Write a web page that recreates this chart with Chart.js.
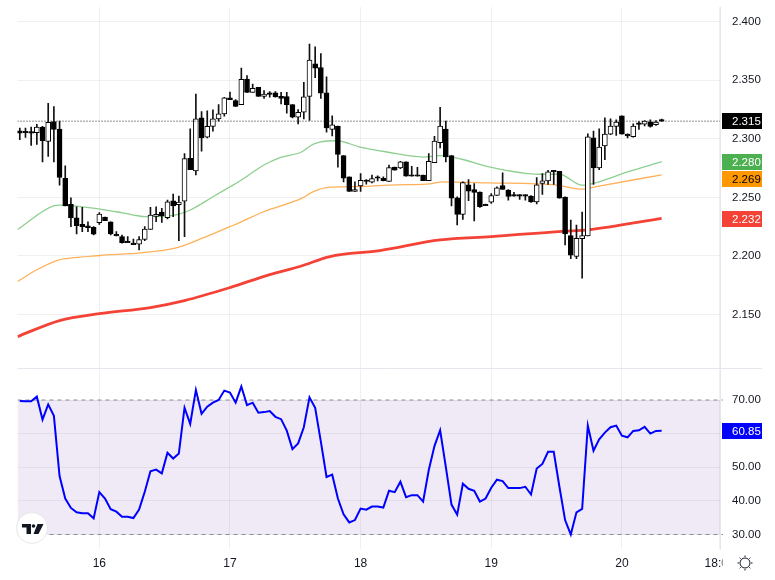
<!DOCTYPE html>
<html><head><meta charset="utf-8">
<style>html,body{margin:0;padding:0;background:#fff}canvas{display:block}</style>
<script src="https://cdn.jsdelivr.net/npm/chart.js@4"></script>
</head><body><canvas id="c" width="775" height="580"></canvas>
<script>
const opens=[2.3068,2.3062,2.3054,2.3051,2.3099,2.2977,2.3147,2.3082,2.2663,2.2440,
2.2326,2.2270,2.2256,2.2244,2.2284,2.2332,2.2292,2.2179,2.2165,2.2123,
2.2103,2.2100,2.2140,2.2227,2.2338,2.2375,2.2326,2.2471,2.2437,2.2468,
2.2833,2.2725,2.3178,2.3014,2.3105,2.3170,2.3212,2.3348,2.3325,2.3291,
2.3509,2.3396,2.3439,2.3362,2.3391,2.3391,2.3362,2.3359,2.3291,2.3184,
2.3226,2.3362,2.3640,2.3608,2.3391,2.3079,2.3108,2.2856,2.2675,2.2550,
2.2598,2.2643,2.2629,2.2672,2.2663,2.2635,2.2759,2.2751,2.2802,2.2686,
2.2686,2.2689,2.2643,2.2796,2.2966,2.3082,2.2856,2.2496,2.2355,2.2607,
2.2567,2.2544,2.2440,2.2459,2.2516,2.2601,2.2561,2.2519,2.2516,2.2519,
2.2510,2.2462,2.2618,2.2641,2.2717,2.2723,2.2502,2.2174,2.1995,2.2148,
2.2171,2.3008,2.2751,2.2938,2.3040,2.3105,2.3195,2.3040,2.3017,2.3122,
2.3125,2.3145,2.3119,2.3155];
const closes=[2.3048,2.3051,2.3048,2.3099,2.2983,2.3139,2.3079,2.2669,2.2426,2.2324,
2.2259,2.2250,2.2242,2.2185,2.2358,2.2301,2.2188,2.2171,2.2114,2.2114,
2.2097,2.2140,2.2230,2.2349,2.2355,2.2341,2.2462,2.2426,2.2459,2.2830,
2.2737,2.3170,2.3008,2.3105,2.3170,2.3212,2.3348,2.3334,2.3275,2.3507,
2.3396,2.3430,2.3362,2.3382,2.3379,2.3357,2.3345,2.3291,2.3184,2.3226,
2.3357,2.3671,2.3603,2.3388,2.3093,2.3119,2.2867,2.2663,2.2550,2.2567,
2.2646,2.2635,2.2660,2.2663,2.2643,2.2754,2.2731,2.2802,2.2680,2.2680,
2.2680,2.2643,2.2808,2.2980,2.3108,2.2844,2.2493,2.2355,2.2626,2.2553,
2.2542,2.2420,2.2428,2.2516,2.2581,2.2567,2.2508,2.2510,2.2510,2.2510,
2.2462,2.2607,2.2641,2.2717,2.2723,2.2493,2.2188,2.2007,2.2151,2.2174,
2.3017,2.2751,2.2929,2.3040,2.3108,2.3142,2.3040,2.3025,2.3108,2.3127,
2.3150,2.3105,2.3142,2.3150];
const highs=[2.3091,2.3091,2.3099,2.3122,2.3105,2.3303,2.3275,2.3150,2.2768,2.2496,
2.2420,2.2414,2.2292,2.2250,2.2369,2.2332,2.2292,2.2208,2.2179,2.2165,
2.2143,2.2165,2.2250,2.2414,2.2420,2.2406,2.2476,2.2527,2.2510,2.2873,
2.3085,2.3382,2.3232,2.3238,2.3246,2.3291,2.3354,2.3399,2.3334,2.3603,
2.3538,2.3467,2.3439,2.3410,2.3402,2.3402,2.3396,2.3396,2.3291,2.3249,
2.3481,2.3807,2.3784,2.3727,2.3529,2.3195,2.3108,2.2856,2.2675,2.2632,
2.2703,2.2652,2.2689,2.2683,2.2675,2.2776,2.2759,2.2808,2.2802,2.2765,
2.2757,2.2689,2.2873,2.3020,2.3269,2.3150,2.2856,2.2505,2.2632,2.2652,
2.2618,2.2547,2.2443,2.2533,2.2590,2.2709,2.2567,2.2542,2.2522,2.2522,
2.2516,2.2669,2.2703,2.2731,2.2731,2.2723,2.2505,2.2307,2.2264,2.2375,
2.3042,2.3065,2.3085,2.3178,2.3170,2.3161,2.3195,2.3042,2.3127,2.3147,
2.3156,2.3161,2.3156,2.3167];
const lows=[2.2992,2.3011,2.2943,2.2952,2.2802,2.2850,2.2802,2.2604,2.2426,2.2250,
2.2188,2.2208,2.2208,2.2179,2.2270,2.2301,2.2179,2.2171,2.2109,2.2114,
2.2097,2.2052,2.2131,2.2227,2.2292,2.2287,2.2315,2.2335,2.2131,2.2165,
2.2737,2.2692,2.2895,2.3008,2.3065,2.3150,2.3192,2.3334,2.3275,2.3291,
2.3396,2.3396,2.3362,2.3345,2.3354,2.3354,2.3297,2.3218,2.3178,2.3127,
2.3170,2.3156,2.3521,2.3345,2.3057,2.3025,2.2757,2.2632,2.2550,2.2550,
2.2550,2.2612,2.2624,2.2641,2.2641,2.2635,2.2731,2.2745,2.2680,2.2680,
2.2680,2.2643,2.2643,2.2796,2.2921,2.2802,2.2426,2.2264,2.2312,2.2471,
2.2298,2.2414,2.2428,2.2448,2.2516,2.2567,2.2476,2.2510,2.2482,2.2476,
2.2457,2.2443,2.2525,2.2610,2.2610,2.2493,2.2094,2.1976,2.1976,2.1811,
2.2171,2.2610,2.2737,2.2822,2.3034,2.3028,2.3040,2.3008,2.3014,2.3079,
2.3110,2.3099,2.3113,2.3147];

const greenBars=[-0.4,5.9,7,14.1,17,20,22.3,27,30,34,37,38.8,42.9,45.8,49.6,51.6,52.8,55.8,59.9,64.6,71,74,77.8,82.2,91.6,95,99,101.5,107,113];
const greenMA=[2.2225,2.2428,2.2434,2.2400,2.2377,2.2349,2.2335,2.2346,2.2392,2.2505,2.2590,2.2641,2.2774,2.2839,2.2887,2.2952,2.2972,2.2983,2.2929,2.2887,2.2844,2.2856,2.2825,2.2765,2.2697,2.2697,2.2604,2.2626,2.2717,2.2804];
const orangeBars=[-0.4,3,6.5,8.3,14.1,21.7,27.7,31.7,37,38.8,42.9,49.6,51.6,54.6,59.9,66.3,71.6,74.5,82.2,94.5,99,101.5,113];
const orangeMA=[2.1782,2.1882,2.1961,2.1978,2.2004,2.2029,2.2072,2.2143,2.2250,2.2287,2.2377,2.2491,2.2547,2.2587,2.2592,2.2607,2.2612,2.2632,2.2624,2.2604,2.2570,2.2592,2.2692];
const redBars=[-0.4,7,14,23,29,37,44,49.3,54.6,63.4,74,83,95.5,100,113];
const redMA=[2.1312,2.1449,2.1508,2.1560,2.1619,2.1730,2.1841,2.1910,2.1995,2.2046,2.2137,2.2165,2.2210,2.2222,2.2321];

const rsi=[69.7,69.6,69.6,71,64.2,68.7,65.3,47.4,40.7,37.9,
36.6,36.3,36.3,34.8,42.6,40.7,37.5,36.8,35.3,35.3,
34.9,37.4,42.7,48.8,49.3,48.2,54.3,52.6,54.1,67.7,
62.9,73,65.9,68,69.2,70,72.8,72.2,69.2,74,
68.5,69.2,66.2,66.4,66.7,65,64.3,60.9,55.4,57.1,
61.9,70.8,67.7,57.6,47.1,47.8,40.7,36,33.6,34.3,
37.7,37.4,38.3,38.3,38,43,42.6,45.7,41.1,41.7,
41.7,39.8,49.2,56.3,61,50.1,38.9,35.9,45.1,43.6,
43,39.8,40.7,43.9,46.3,45.9,43.8,43.8,43.8,44.2,
41.9,49.6,51,54.6,54.6,44.2,34.3,30,36.6,37.6,
62.4,54.9,58.3,60.3,61.9,62.4,59.4,58.9,60.8,61,
62,60,60.8,60.85];

const priceTicks=[2.15,2.2,2.25,2.3,2.35,2.4];
const rsiTicks=[30,40,50,60,70];
const rsiBand=[70,30];
const dayTickBars=[14,37,60,83,106,123.2];
const dayTickLabels=['16','17','18','19','20','18:00'];
const lastPrice=2.315, lastGreen=2.280, lastOrange=2.269, lastRed=2.232, lastRsi=60.85;

const XMIN=-0.405, XMAX=123.27, BANDEND=123.8;
const idx=opens.map((_,i)=>i);
const pts=(xs,ys)=>xs.map((x,i)=>({x,y:ys[i]}));
const line=(label,data,color,width)=>({type:'line',label,data,yAxisID:'y',borderColor:color,borderWidth:width,pointRadius:0,cubicInterpolationMode:'monotone',fill:false,order:5});
const bodyFill=idx.map(i=>closes[i]>opens[i]&&Math.abs(closes[i]-opens[i])>=0.0016?'#ffffff':'#000000');
const GRID='rgba(42,46,57,0.07)';
const TXT='#131722';
const FONT='"Liberation Sans",Arial,sans-serif';

const overlay={id:'overlay',
 afterDraw(ch){
  const c=ch.ctx,y=ch.scales.y,r=ch.scales.rsi,a=ch.chartArea;
  c.save();
  c.strokeStyle='#e4e7ee';c.lineWidth=1;c.beginPath();c.moveTo(a.left,368.5);c.lineTo(762,368.5);c.stroke();
  c.fillStyle='#fff';c.fillRect(722.5,a.bottom+1,60,40);
  const badge=(cy,bg,fg,txt)=>{
    c.fillStyle=bg;c.fillRect(722,Math.round(cy-8),40,16);
    c.fillStyle=fg;c.font='11.5px '+FONT;c.textAlign='left';c.textBaseline='middle';
    c.fillText(txt,732,Math.round(cy)+0.5);
  };
  badge(y.getPixelForValue(lastPrice),'#000','#fff',lastPrice.toFixed(3));
  badge(y.getPixelForValue(lastGreen),'#4caf50','#fff',lastGreen.toFixed(3));
  badge(y.getPixelForValue(lastOrange)+3.5,'#ff9800','#000',lastOrange.toFixed(3));
  badge(y.getPixelForValue(lastRed)+1,'#f44336','#fff',lastRed.toFixed(3));
  badge(r.getPixelForValue(lastRsi),'#0000ff','#fff',lastRsi.toFixed(2));
  c.beginPath();c.arc(32,528,15.5,0,Math.PI*2);c.fillStyle='#fff';c.fill();c.strokeStyle='#e6e6e6';c.lineWidth=1;c.stroke();
  c.fillStyle='#131722';
  c.fillRect(22,524,9,3.5);c.fillRect(26.5,524,4.5,10);
  c.beginPath();c.arc(33.5,526,1.8,0,Math.PI*2);c.fill();
  c.beginPath();c.moveTo(37.5,524);c.lineTo(43.5,524);c.lineTo(38.5,534);c.lineTo(33.5,534);c.closePath();c.fill();
  c.strokeStyle='#131722';c.lineWidth=1;c.beginPath();c.arc(745,563,5,0,Math.PI*2);c.stroke();
  for(let k=0;k<8;k++){const t=k*Math.PI/4;c.beginPath();c.moveTo(745+6*Math.cos(t),563+6*Math.sin(t));c.lineTo(745+7.5*Math.cos(t),563+7.5*Math.sin(t));c.stroke();}
  c.restore();
 }};

const yFit=s=>{s.width=55;s.paddingTop=0;s.paddingBottom=0;};
const bandClip={left:0,top:0,right:3,bottom:0};
new Chart(document.getElementById('c'),{
 type:'bar',
 plugins:[overlay],
 data:{datasets:[
  {type:'line',label:'band70',yAxisID:'rsi',data:pts([XMIN,BANDEND],[rsiBand[0],rsiBand[0]]),clip:bandClip,borderColor:'#8a8d96',borderWidth:1,borderDash:[4,4],pointRadius:0,fill:'+1',backgroundColor:'rgba(122,80,180,0.12)',order:9},
  {type:'line',label:'band30',yAxisID:'rsi',data:pts([XMIN,BANDEND],[rsiBand[1],rsiBand[1]]),clip:bandClip,borderColor:'#8a8d96',borderWidth:1,borderDash:[4,4],pointRadius:0,fill:false,order:8},
  {type:'line',label:'RSI',yAxisID:'rsi',data:pts(idx,rsi),borderColor:'#0000ff',borderWidth:2,pointRadius:0,tension:0,fill:false,order:1},
  line('EMA long',pts(redBars,redMA),'#f44336',2.8),
  line('EMA mid',pts(orangeBars,orangeMA),'#ffb15a',1.3),
  line('EMA short',pts(greenBars,greenMA),'#8dcf8f',1.3),
  {type:'line',label:'last',yAxisID:'y',data:pts([XMIN,XMAX],[lastPrice,lastPrice]),borderColor:'#222',borderWidth:1,borderDash:[1,2],pointRadius:0,fill:false,order:0},
  {type:'bar',label:'wick',yAxisID:'y',data:idx.map(i=>({x:i,y:[lows[i],highs[i]]})),backgroundColor:'#111',barThickness:1,grouped:false,order:3},
  {type:'bar',label:'body',yAxisID:'y',data:idx.map(i=>({x:i,y:[opens[i],closes[i]]})),backgroundColor:bodyFill,borderColor:'#000',borderWidth:1,borderSkipped:false,barThickness:5,grouped:false,minBarLength:1.5,order:2}
 ]},
 options:{
  responsive:false,animation:false,
  layout:{padding:{left:17.5,top:7,right:0,bottom:0}},
  plugins:{legend:{display:false},tooltip:{enabled:false}},
  scales:{
   x:{type:'linear',min:XMIN,max:XMAX,offset:false,
    grid:{color:GRID,drawTicks:false,offset:false},border:{display:false},
    ticks:{autoSkip:false,maxRotation:0,padding:7,color:TXT,font:{family:FONT,size:12},callback:v=>{const k=dayTickBars.indexOf(v);return k<0?'':dayTickLabels[k];}},
    afterBuildTicks:s=>{s.ticks=dayTickBars.map(value=>({value}));},
    afterFit:s=>{s.height=31;s.paddingLeft=0;s.paddingRight=0;}},
   y:{type:'linear',position:'right',stack:'panes',stackWeight:361,weight:1,min:2.1044,max:2.4124,
    grid:{color:GRID,drawTicks:false},border:{color:'#e4e7ee'},
    ticks:{padding:12,color:TXT,font:{family:FONT,size:11.5},callback:v=>Number(v).toFixed(3)},
    afterBuildTicks:s=>{s.ticks=priceTicks.map(value=>({value}));},afterFit:yFit},
   rsi:{type:'linear',position:'right',stack:'panes',stackWeight:181,weight:2,min:25.69,max:79.52,
    grid:{color:GRID,drawTicks:false},border:{color:'#e4e7ee'},
    ticks:{padding:12,color:TXT,font:{family:FONT,size:11.5},callback:v=>Number(v).toFixed(2)},
    afterBuildTicks:s=>{s.ticks=rsiTicks.map(value=>({value}));},afterFit:yFit}
  }
 }
});
</script></body></html>
